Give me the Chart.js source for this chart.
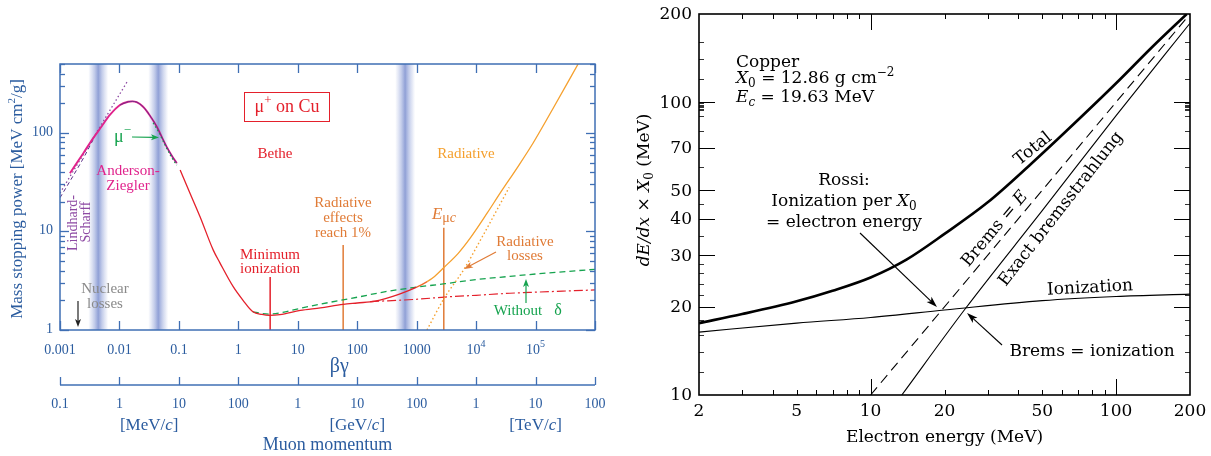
<!DOCTYPE html>
<html>
<head>
<meta charset="utf-8">
<script src="https://cdn.jsdelivr.net/npm/chart.js@4.4.1/dist/chart.umd.min.js"></script>
<style>
  html, body { margin: 0; padding: 0; background: #fff; }
  #wrap { position: relative; width: 1211px; height: 456px; }
  #wrap canvas { position: absolute; left: 0; top: 0; }
</style>
</head>
<body>
<div id="wrap">
  <canvas id="muon" width="1211" height="456"></canvas>
  <canvas id="copper" width="1211" height="456"></canvas>
</div>
<script>
// ---------- left panel: muons in copper, stopping power vs beta*gamma ----------
const bandBetaGamma = [0.0044, 0.045, 640];

const azBetaGamma = [0.00147, 0.0025, 0.0036, 0.005, 0.0069, 0.0102, 0.014, 0.0165, 0.0195, 0.025, 0.032, 0.0424, 0.052, 0.062, 0.077, 0.092];
const azStopping = [39, 63, 88, 116, 152, 192, 207, 209, 205, 184, 152, 116, 90, 72.6, 58, 49.3];

const muMinusBetaGamma = [0.037, 0.045, 0.06, 0.075, 0.092];
const muMinusStopping = [126, 104, 73, 57, 47];

const lindhardBetaGamma = [0.001, 0.0015, 0.0025, 0.0036];
const lindhardStopping = [22, 33, 56, 85];
const lindhardLineBetaGamma = [0.001, 0.0138];
const lindhardLine = [24.5, 338];

const totalBetaGamma = [0.105, 0.15, 0.227, 0.377, 0.49, 0.82, 1.2, 1.76, 2.5, 3.3, 5, 11, 24, 58, 100, 200, 500, 1000, 1500, 2000, 2900, 5000, 8000, 15500, 25500, 50000, 91000, 200000, 520000];
const totalStopping = [42, 25.3, 14.1, 6.5, 4.8, 2.75, 2.0, 1.53, 1.44, 1.41, 1.43, 1.58, 1.68, 1.82, 1.88, 1.96, 2.3, 2.72, 3.1, 3.5, 4.33, 6.0, 8.6, 15.5, 24.6, 45, 79, 180, 500];

const radBetaGamma = [1490, 2900, 6200, 12000, 29000, 36000];
const radStopping = [1.0, 2.1, 4.1, 8.3, 22, 28];

const ionBetaGamma = [165, 1000, 3000, 10000, 37000, 100000, 1000000];
const ionStopping = [1.94, 2.05, 2.16, 2.25, 2.36, 2.42, 2.55];

const noDeltaBetaGamma = [1.76, 2.5, 3.3, 5, 11, 24, 100, 300, 1000, 3000, 10000, 37000, 100000, 1000000];
const noDeltaStopping = [1.53, 1.47, 1.45, 1.49, 1.66, 1.83, 2.15, 2.45, 2.72, 2.95, 3.25, 3.5, 3.7, 4.13];

// vertical markers: [beta*gamma, top of line]
const minIonMarker = [3.43, 3.45];
const radOnePctMarker = [58, 7.3];
const criticalMarker = [2860, 10.9];

const betaGammaTicks = [0.001, 0.01, 0.1, 1, 10, 100, 1000, 1e4, 1e5, 1e6];
const betaGammaLabels = ['0.001', '0.01', '0.1', '1', '10', '100', '1000', '10^4', '10^5', ''];
const momentumTicks = [0.1, 1, 10, 100, 1e3, 1e4, 1e5, 1e6, 1e7, 1e8];   // MeV/c
const momentumLabels = ['0.1', '1', '10', '100', '1', '10', '100', '1', '10', '100'];
const momentumUnits = [[Math.sqrt(10), 'MeV'], [1e4, 'GeV'], [1e7, 'TeV']];
const stoppingTicks = [1, 10, 100];

// ---------- right panel: electrons in copper ----------
const energyTotal = [2, 3, 5, 7, 10, 14, 20, 30, 45, 63, 100, 140, 194];
const totalLoss = [17.6, 18.9, 20.9, 22.7, 25.2, 29.0, 35.5, 45.5, 61.5, 80, 116, 154, 200];
const energyIon = [2, 5, 10, 20, 50, 100, 200];
const ionizationLoss = [16.4, 17.6, 18.4, 19.5, 21.0, 21.7, 22.1];
const energyBrems = [13.4, 24.3, 50, 100, 200];
const exactBrems = [10, 19.7, 42.6, 90, 186];
const energyRossi = [10, 200];
const rossiBrems = [10, 200];

const energyLabels = [2, 5, 10, 20, 50, 100, 200];
const energyMinor = [3, 4, 5, 6, 7, 8, 9, 20, 30, 40, 50, 60, 70, 80, 90];
const energyMajor = [10, 100];
const lossLabels = [10, 20, 30, 40, 50, 70, 100, 200];
const lossMinor = [12, 14, 16, 18, 22, 24, 26, 28, 35, 45, 60, 80, 90, 94, 95, 96, 97, 98, 99, 120, 140, 160];

// ---------- colours and fonts ----------
const BLUE = '#3f6fb4', BLUE_TEXT = '#2b5c9f';
const RED = '#e4202b', ORANGE_CURVE = '#f5a02e', ORANGE = '#e07b36';
const GREEN = '#16a34f', MAGENTA = '#e0238c', PURPLE = '#8d4aa3', DARK_PURPLE = '#5a2d86', GRAY = '#8a8a8a';
const TIMES = '"Liberation Serif", "Times New Roman", serif';
const SCHOOL = '"DejaVu Serif", serif';
const tf = (size, style = '') => `${style} ${size}px ${TIMES}`;
const sf = (size, style = '') => `${style} ${size}px ${SCHOOL}`;

const pts = (xs, ys) => xs.map((x, i) => ({ x: x, y: ys[i] }));

// parts: [text, font, dy]
function drawRich(ctx, parts, x, y, align) {
  let w = 0;
  parts.forEach(p => { ctx.font = p[1]; w += ctx.measureText(p[0]).width; });
  let cx = align === 'center' ? x - w / 2 : align === 'right' ? x - w : x;
  ctx.textAlign = 'left';
  ctx.textBaseline = 'middle';
  parts.forEach(p => {
    ctx.font = p[1];
    ctx.fillText(p[0], cx, y + (p[2] || 0));
    cx += ctx.measureText(p[0]).width;
  });
}

function drawText(ctx, text, font, color, x, y, align = 'center', angle = 0) {
  ctx.save();
  ctx.fillStyle = color;
  ctx.translate(x, y);
  if (angle) ctx.rotate(angle * Math.PI / 180);
  drawRich(ctx, typeof text === 'string' ? [[text, font]] : text, 0, 0, align);
  ctx.restore();
}

function arrow(ctx, x1, y1, x2, y2, color, head = 9, half = 3.2, lw = 1.2) {
  const a = Math.atan2(y2 - y1, x2 - x1);
  const c = Math.cos(a), s = Math.sin(a);
  ctx.save();
  ctx.strokeStyle = color; ctx.fillStyle = color; ctx.lineWidth = lw;
  ctx.beginPath();
  ctx.moveTo(x1, y1);
  ctx.lineTo(x2 - c * head * 0.7, y2 - s * head * 0.7);
  ctx.stroke();
  ctx.beginPath();
  ctx.moveTo(x2, y2);
  ctx.lineTo(x2 - c * head + s * half, y2 - s * head - c * half);
  ctx.lineTo(x2 - c * head * 0.75, y2 - s * head * 0.75);
  ctx.lineTo(x2 - c * head - s * half, y2 - s * head + c * half);
  ctx.closePath();
  ctx.fill();
  ctx.restore();
}

function line(ctx, x1, y1, x2, y2) {
  ctx.beginPath(); ctx.moveTo(x1, y1); ctx.lineTo(x2, y2); ctx.stroke();
}

// ---------- left panel decorations ----------
const muonDecor = {
  id: 'muonDecor',
  beforeDatasetsDraw(chart) {
    const { ctx, chartArea: a, scales } = chart;
    ctx.save();
    bandBetaGamma.forEach(b => {
      const x = scales.x.getPixelForValue(b);
      const g = ctx.createLinearGradient(x - 10, 0, x + 10, 0);
      g.addColorStop(0, 'rgba(160,175,222,0)');
      g.addColorStop(0.3, 'rgba(150,166,218,0.55)');
      g.addColorStop(0.5, 'rgba(138,155,212,0.95)');
      g.addColorStop(0.7, 'rgba(150,166,218,0.55)');
      g.addColorStop(1, 'rgba(160,175,222,0)');
      ctx.fillStyle = g;
      ctx.fillRect(x - 10, a.top, 20, a.bottom - a.top);
    });
    ctx.restore();
  },
  afterDraw(chart) {
    const { ctx, chartArea: a, scales } = chart;
    const xs = scales.x, ys = scales.y, ps = scales.p;
    ctx.save();
    // frame and ticks
    ctx.strokeStyle = BLUE;
    ctx.lineWidth = 1.5;
    ctx.strokeRect(a.left, a.top, a.right - a.left, a.bottom - a.top);
    ctx.lineWidth = 1.3;
    betaGammaTicks.forEach(v => {
      const x = Math.round(xs.getPixelForValue(v)) + 0.5;
      line(ctx, x, a.bottom, x, a.bottom - 9);
      line(ctx, x, a.top, x, a.top + 9);
    });
    for (let d = 1; d <= 100; d *= 10) {
      for (let m = 1; m <= 9; m++) {
        const v = d * m;
        if (v > 500) continue;
        const y = Math.round(ys.getPixelForValue(v)) + 0.5;
        const len = m === 1 ? 9 : 5;
        line(ctx, a.left, y, a.left + len, y);
        line(ctx, a.right, y, a.right - len, y);
      }
    }
    // muon momentum axis
    const py = a.bottom + 55;
    line(ctx, ps.getPixelForValue(momentumTicks[0]), py, ps.getPixelForValue(momentumTicks[momentumTicks.length - 1]), py);
    momentumTicks.forEach(v => {
      const x = Math.round(ps.getPixelForValue(v)) + 0.5;
      line(ctx, x, py, x, py - 8);
    });

    // tick labels
    ctx.fillStyle = BLUE_TEXT;
    betaGammaTicks.forEach((v, i) => {
      const lab = betaGammaLabels[i];
      if (!lab) return;
      const x = xs.getPixelForValue(v);
      if (lab.startsWith('10^')) {
        drawRich(ctx, [['10', tf(14)], [lab.slice(3), tf(10), -6]], x, a.bottom + 20, 'center');
      } else {
        drawRich(ctx, [[lab, tf(14)]], x, a.bottom + 20, 'center');
      }
    });
    stoppingTicks.forEach(v => {
      drawRich(ctx, [[String(v), tf(14)]], a.left - 7, ys.getPixelForValue(v) - 1, 'right');
    });
    momentumTicks.forEach((v, i) => {
      drawRich(ctx, [[momentumLabels[i], tf(14)]], ps.getPixelForValue(v), py + 19, 'center');
    });
    momentumUnits.forEach(u => {
      drawRich(ctx, [['[' + u[1] + '/', tf(17)], ['c', tf(17, 'italic')], [']', tf(17)]], ps.getPixelForValue(u[0]), py + 41, 'center');
    });
    drawText(ctx, 'Muon momentum', tf(18), BLUE_TEXT, (a.left + a.right) / 2, py + 60);
    drawText(ctx, 'βγ', tf(20), BLUE_TEXT, xs.getPixelForValue(50), a.bottom + 37);
    drawText(ctx, [['Mass stopping power [MeV cm', tf(17)], ['2', tf(11), -6], ['/g]', tf(17)]], tf(17), BLUE_TEXT, 18, (a.top + a.bottom) / 2 + 2, 'center', -90);

    // annotations
    ctx.strokeStyle = RED; ctx.lineWidth = 1;
    ctx.strokeRect(244.5, 92.5, 85, 29);
    drawText(ctx, [['μ', tf(18)], ['+', tf(13), -6], [' on Cu', tf(18)]], '', RED, 287, 107);
    drawText(ctx, 'Bethe', tf(15), RED, 275, 154);
    drawText(ctx, 'Radiative', tf(15), ORANGE_CURVE, 466, 154);
    drawText(ctx, [['μ', tf(18)], ['−', tf(13), -6]], '', GREEN, 131, 137, 'right');
    arrow(ctx, 132, 137, 159, 137.5, GREEN, 8, 3);
    drawText(ctx, 'Anderson-', tf(15), MAGENTA, 128, 171);
    drawText(ctx, 'Ziegler', tf(15), MAGENTA, 128, 186);
    drawText(ctx, 'Lindhard-', tf(14), PURPLE, 73, 223, 'center', -90);
    drawText(ctx, 'Scharff', tf(14), PURPLE, 86, 222, 'center', -90);
    drawText(ctx, 'Nuclear', tf(15), GRAY, 105, 289);
    drawText(ctx, 'losses', tf(15), GRAY, 105, 304);
    arrow(ctx, 78, 301, 78, 327, '#222', 8, 3);
    drawText(ctx, 'Minimum', tf(15), RED, 270, 255);
    drawText(ctx, 'ionization', tf(15), RED, 270, 269);
    drawText(ctx, 'Radiative', tf(15), ORANGE, 343, 203);
    drawText(ctx, 'effects', tf(15), ORANGE, 343, 218);
    drawText(ctx, 'reach 1%', tf(15), ORANGE, 343, 233);
    drawText(ctx, [['E', tf(17, 'italic')], ['μ', tf(14), 3], ['c', tf(14, 'italic'), 3]], '', ORANGE, 444, 215);
    drawText(ctx, 'Radiative', tf(15), ORANGE, 525, 242);
    drawText(ctx, 'losses', tf(15), ORANGE, 525, 256);
    arrow(ctx, 496, 252, 464, 269, ORANGE, 9, 3.2);
    drawText(ctx, 'Without', tf(15), GREEN, 518, 311);
    drawText(ctx, 'δ', tf(16), GREEN, 558, 311);
    arrow(ctx, 526, 303, 526, 279, GREEN, 8, 3);
    ctx.restore();
  }
};

const smooth = { cubicInterpolationMode: 'monotone', pointRadius: 0, fill: false };

new Chart(document.getElementById('muon'), {
  type: 'line',
  data: {
    datasets: [
      { ...smooth, data: pts(azBetaGamma.slice(5), azStopping.slice(5)), borderColor: DARK_PURPLE, borderWidth: 0.8 },
      { ...smooth, data: pts(muMinusBetaGamma, muMinusStopping), borderColor: GREEN, borderWidth: 1.4, borderDash: [1.5, 2.5] },
      { ...smooth, data: pts(azBetaGamma, azStopping), borderColor: MAGENTA, borderWidth: 1.9 },
      { ...smooth, data: pts(lindhardBetaGamma, lindhardStopping), borderColor: DARK_PURPLE, borderWidth: 1, borderDash: [4, 3] },
      { ...smooth, data: pts(lindhardLineBetaGamma, lindhardLine), borderColor: PURPLE, borderWidth: 1.3, borderDash: [1.5, 2.5] },
      { ...smooth, data: pts(totalBetaGamma, totalStopping), borderWidth: 1.3,
        segment: { borderColor: c => c.p0.parsed.x >= 1500 ? ORANGE_CURVE : (c.p0.parsed.x >= 1000 ? '#f06a2a' : RED) } },
      { ...smooth, data: pts(radBetaGamma, radStopping), borderColor: ORANGE_CURVE, borderWidth: 1.4, borderDash: [1.5, 2.5] },
      { ...smooth, data: pts(ionBetaGamma, ionStopping), borderColor: RED, borderWidth: 1.2, borderDash: [9, 3, 2, 3] },
      { ...smooth, data: pts(noDeltaBetaGamma, noDeltaStopping), borderColor: GREEN, borderWidth: 1.3, borderDash: [6, 4] },
      { ...smooth, data: [{ x: minIonMarker[0], y: 1 }, { x: minIonMarker[0], y: minIonMarker[1] }], borderColor: RED, borderWidth: 1.5 },
      { ...smooth, data: [{ x: radOnePctMarker[0], y: 1 }, { x: radOnePctMarker[0], y: radOnePctMarker[1] }], borderColor: ORANGE, borderWidth: 1.5 },
      { ...smooth, data: [{ x: criticalMarker[0], y: 1 }, { x: criticalMarker[0], y: criticalMarker[1] }], borderColor: ORANGE, borderWidth: 1.5 }
    ]
  },
  options: {
    responsive: false,
    animation: false,
    devicePixelRatio: 1,
    layout: { padding: { left: 60, top: 64, right: 616, bottom: 126 } },
    plugins: { legend: { display: false }, tooltip: { enabled: false } },
    scales: {
      x: { type: 'logarithmic', min: 0.001, max: 1e6, display: false },
      y: { type: 'logarithmic', min: 1, max: 500, display: false },
      p: { type: 'logarithmic', axis: 'x', position: 'bottom', min: 0.1, max: 1e8, display: false }
    }
  },
  plugins: [muonDecor]
});

// ---------- right panel decorations ----------
const copperDecor = {
  id: 'copperDecor',
  afterDraw(chart) {
    const { ctx, chartArea: a, scales } = chart;
    const xs = scales.x, ys = scales.y;
    ctx.save();
    ctx.strokeStyle = '#000';
    ctx.lineWidth = 1.6;
    ctx.strokeRect(a.left, a.top, a.right - a.left, a.bottom - a.top);
    ctx.lineWidth = 1;
    energyMinor.forEach(v => {
      const x = Math.round(xs.getPixelForValue(v)) + 0.5;
      line(ctx, x, a.bottom, x, a.bottom - 5);
      line(ctx, x, a.top, x, a.top + 5);
    });
    energyMajor.forEach(v => {
      const x = Math.round(xs.getPixelForValue(v)) + 0.5;
      line(ctx, x, a.bottom, x, a.bottom - 16);
      line(ctx, x, a.top, x, a.top + 16);
    });
    ctx.lineWidth = 0.8;
    lossMinor.forEach(v => {
      const y = Math.round(ys.getPixelForValue(v)) + 0.5;
      line(ctx, a.left, y, a.left + 5, y);
      line(ctx, a.right, y, a.right - 5, y);
    });
    ctx.lineWidth = 1;
    lossLabels.forEach(v => {
      if (v === 10 || v === 200) return;
      const y = Math.round(ys.getPixelForValue(v)) + 0.5;
      line(ctx, a.left, y, a.left + 16, y);
      line(ctx, a.right, y, a.right - 16, y);
    });

    ctx.fillStyle = '#000';
    energyLabels.forEach(v => drawRich(ctx, [[String(v), sf(17)]], xs.getPixelForValue(v), a.bottom + 17, 'center'));
    lossLabels.forEach(v => drawRich(ctx, [[String(v), sf(17)]], a.left - 7, ys.getPixelForValue(v) + 1, 'right'));
    drawText(ctx, 'Electron energy (MeV)', sf(17), '#000', (a.left + a.right) / 2, a.bottom + 43);
    drawText(ctx, [['dE/dx', sf(17, 'italic')], [' × ', sf(17)], ['X', sf(17, 'italic')], ['0', sf(12), 5], [' (MeV)', sf(17)]], '', '#000', 645, 190, 'center', -90);

    drawText(ctx, 'Copper', sf(17), '#000', 736, 63, 'left');
    drawText(ctx, [['X', sf(17, 'italic')], ['0', sf(12), 5], [' = 12.86 g cm', sf(17)], ['−2', sf(12), -6]], '', '#000', 736, 79, 'left');
    drawText(ctx, [['E', sf(17, 'italic')], ['c', sf(12, 'italic'), 5], [' = 19.63 MeV', sf(17)]], '', '#000', 736, 98, 'left');
    drawText(ctx, 'Rossi:', sf(17), '#000', 844, 181);
    drawText(ctx, [['Ionization per ', sf(17)], ['X', sf(17, 'italic')], ['0', sf(12), 5]], '', '#000', 844, 202);
    drawText(ctx, '= electron energy', sf(17), '#000', 844, 223);
    arrow(ctx, 860, 233, 937, 307, '#000', 11, 3.5, 1.1);
    drawText(ctx, 'Total', sf(17), '#000', 1033, 149, 'center', -39);
    drawText(ctx, [['Brems = ', sf(17)], ['E', sf(17, 'italic')]], '', '#000', 995, 229, 'center', -50);
    drawText(ctx, 'Exact bremsstrahlung', sf(17), '#000', 1061, 209, 'center', -52);
    drawText(ctx, 'Ionization', sf(17), '#000', 1090, 288, 'center', -3);
    drawText(ctx, 'Brems = ionization', sf(17), '#000', 1092, 352);
    arrow(ctx, 1002, 345, 967, 313, '#000', 11, 3.5, 1.1);
    ctx.restore();
  }
};

new Chart(document.getElementById('copper'), {
  type: 'line',
  data: {
    datasets: [
      { ...smooth, data: pts(energyTotal, totalLoss), borderColor: '#000', borderWidth: 2.6 },
      { ...smooth, data: pts(energyIon, ionizationLoss), borderColor: '#000', borderWidth: 1.1 },
      { ...smooth, data: pts(energyBrems, exactBrems), borderColor: '#000', borderWidth: 1.1 },
      { ...smooth, data: pts(energyRossi, rossiBrems), borderColor: '#000', borderWidth: 1.1, borderDash: [10, 6] }
    ]
  },
  options: {
    responsive: false,
    animation: false,
    devicePixelRatio: 1,
    layout: { padding: { left: 699, top: 14, right: 21, bottom: 61 } },
    plugins: { legend: { display: false }, tooltip: { enabled: false } },
    scales: {
      x: { type: 'logarithmic', min: 2, max: 200, display: false },
      y: { type: 'logarithmic', min: 10, max: 200, display: false }
    }
  },
  plugins: [copperDecor]
});
</script>
</body>
</html>
